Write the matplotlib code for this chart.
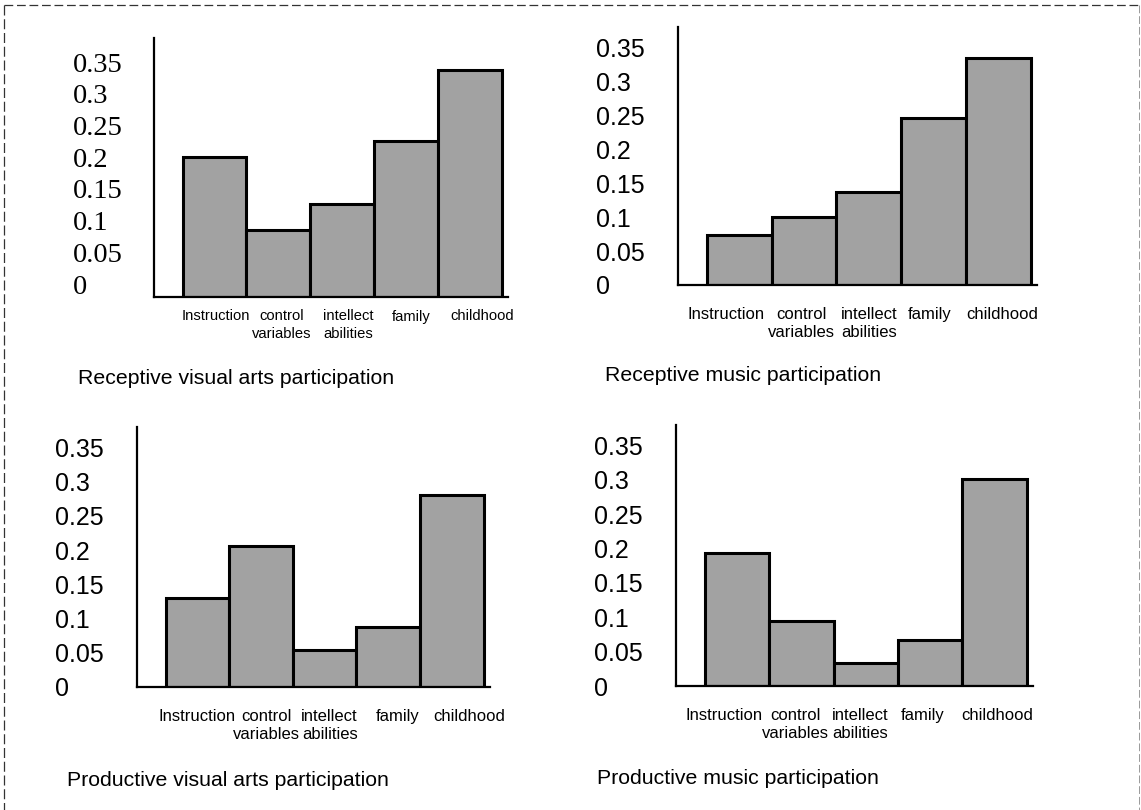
import matplotlib
matplotlib.use('Agg')
import matplotlib.pyplot as plt
from matplotlib.lines import Line2D
from matplotlib.transforms import ScaledTranslation

W, H = 1141, 810

categories = ['Instruction', 'control\nvariables', 'intellect\nabilities', 'family', 'childhood']
yticks = [0, 0.05, 0.1, 0.15, 0.2, 0.25, 0.3, 0.35]
ytick_labels = ['0', '0.05', '0.1', '0.15', '0.2', '0.25', '0.3', '0.35']

receptive_visual = [0.205, 0.099, 0.136, 0.229, 0.333]
receptive_music = [0.073, 0.100, 0.137, 0.246, 0.335]
productive_visual = [0.130, 0.206, 0.054, 0.088, 0.281]
productive_music = [0.193, 0.095, 0.034, 0.067, 0.302]

titles = ['Receptive visual arts participation', 'Receptive music participation',
          'Productive visual arts participation', 'Productive music participation']

# panel boxes in pixels: axis x, axis top, baseline, right end
boxes = [(154, 38, 297, 508), (678, 27, 285, 1037),
         (137, 427, 687, 490), (676, 425, 686, 1033)]
title_pos = [(78, 378), (605, 375), (67, 780), (597, 778)]
# the category labels in the scan are not quite centred under the bars (px)
label_shift = [[1, 3, 6, 5, 12], [-13, -3, 0, -4, 4],
               [0, 5, 5, 9, 17], [-13, -6, -6, -7, 3]]

BAR_GREY = '#a2a2a2'
SANS = ['Liberation Sans', 'DejaVu Sans']

fig = plt.figure(figsize=(W / 100, H / 100), dpi=100)


def panel(i, values):
    x0, top, base, right = boxes[i]
    ax = fig.add_axes([x0 / W, 1 - base / H, (right - x0) / W, (base - top) / H])
    ax.bar(range(len(values)), values, width=1.0, color=BAR_GREY,
           edgecolor='black', linewidth=2.2, zorder=2)
    ax.set_xlim(-0.95, 4.6)
    ax.set_ylim(0, 0.38)
    for s in ['top', 'right']:
        ax.spines[s].set_visible(False)
    ax.spines['left'].set_linewidth(1.6)
    ax.spines['bottom'].set_linewidth(1.6)
    ax.set_xticks(range(len(categories)))
    if i == 0:
        ax.set_xticklabels(categories, family=SANS, fontsize=10.6, linespacing=1.3)
        ax.tick_params(axis='x', length=0, pad=9)
        # serif value column, slightly compressed as in the source
        ax.set_yticks([])
        for k, lab in enumerate(ytick_labels):
            off = ScaledTranslation(-81 / 100, (10 + k * 31.7) / 100, fig.dpi_scale_trans)
            ax.text(0, 0, lab, transform=ax.transAxes + off, ha='left', va='center',
                    family=['Liberation Serif', 'DejaVu Serif'], fontsize=20.5)
    else:
        ax.set_xticklabels(categories, family=SANS, fontsize=12, linespacing=1.25)
        ax.tick_params(axis='x', length=0, pad=16)
        ax.set_yticks(yticks)
        ax.set_yticklabels(ytick_labels, family=SANS, fontsize=18, ha='left')
        ax.tick_params(axis='y', length=0, pad=59)
    for lbl, dx in zip(ax.get_xticklabels(), label_shift[i]):
        lbl.set_transform(lbl.get_transform() + ScaledTranslation(dx / 100, 0, fig.dpi_scale_trans))
    tx, ty = title_pos[i]
    fig.text(tx / W, 1 - ty / H, titles[i], family=SANS, fontsize=15.3,
             ha='left', va='center')
    return ax


for i, vals in enumerate([receptive_visual, receptive_music, productive_visual, productive_music]):
    panel(i, vals)

# dashed frame of the scanned page
fig.add_artist(Line2D([4 / W, 1139 / W], [1 - 5 / H, 1 - 5 / H], color='#333333',
                      linewidth=0.9, linestyle=(0, (7, 3))))
fig.add_artist(Line2D([4 / W, 4 / W], [1 - 5 / H, 0], color='#333333',
                      linewidth=0.9, linestyle=(0, (8, 3))))
fig.add_artist(Line2D([1139 / W, 1139 / W], [1 - 5 / H, 0], color='#999999',
                      linewidth=0.7, linestyle=(0, (8, 3))))

fig.savefig('out.png', dpi=100)
